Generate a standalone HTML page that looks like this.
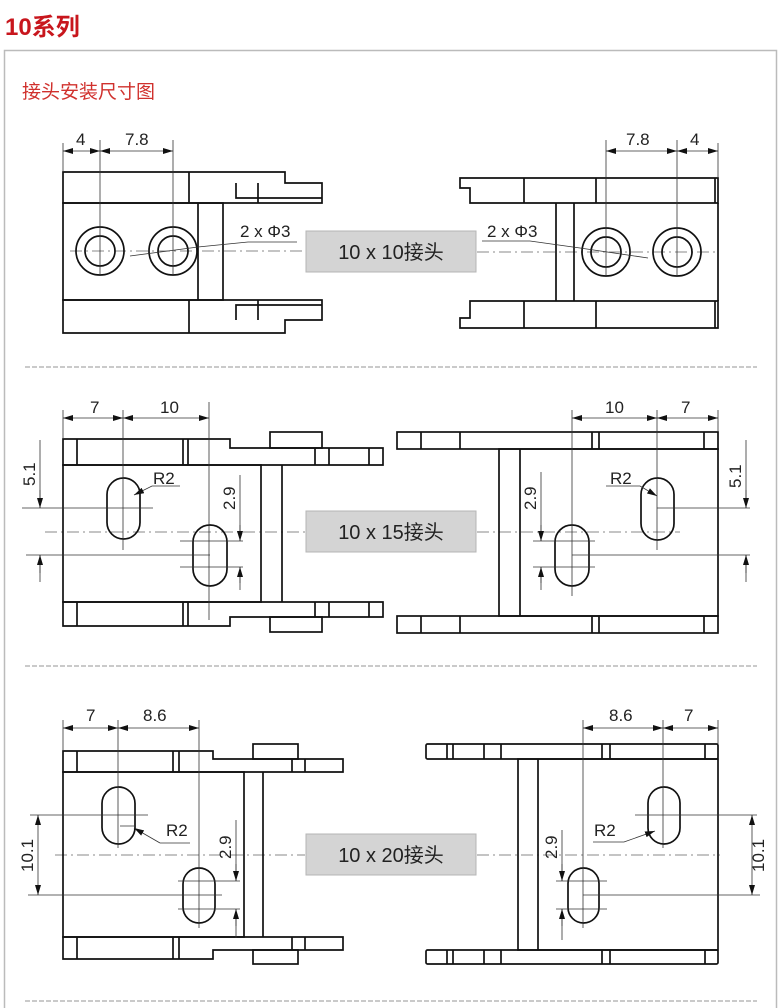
<!DOCTYPE html>
<html><head><meta charset="utf-8"><style>
html,body{margin:0;padding:0;background:#fff;}
svg{display:block;}
text{font-family:"Liberation Sans","Noto Sans CJK SC",sans-serif;}
</style></head><body>
<svg width="780" height="1008" viewBox="0 0 780 1008" xmlns="http://www.w3.org/2000/svg">
<defs>
<marker id="a" viewBox="0 0 10 6" refX="10" refY="3" markerWidth="10" markerHeight="6" markerUnits="userSpaceOnUse" orient="auto-start-reverse"><path d="M0,0 L10,3 L0,6 Z" fill="#111"/></marker>
</defs>
<text x="5" y="35" font-size="24" font-weight="bold" fill="#c8161d">10系列</text>
<path d="M4.5,1008 V50.5 H776.5 V1008" fill="none" stroke="#bbb" stroke-width="1.5"/>
<text x="22" y="98" font-size="19" fill="#d0312d">接头安装尺寸图</text>
<g stroke="#aaa" stroke-width="1.2" stroke-dasharray="5,2">
<line x1="25" y1="367" x2="757" y2="367"/><line x1="25" y1="666" x2="757" y2="666"/><line x1="25" y1="1001" x2="757" y2="1001"/>
</g>

<g fill="#d4d4d4" stroke="#b5b5b5" stroke-width="1">
<rect x="306" y="231" width="170" height="41"/>
<rect x="306" y="511" width="170" height="41"/>
<rect x="306" y="834" width="170" height="41"/>
</g>
<g font-size="20" fill="#222" text-anchor="middle">
<text x="391" y="259">10 x 10接头</text>
<text x="391" y="539">10 x 15接头</text>
<text x="391" y="862">10 x 20接头</text>
</g>

<g stroke="#888" stroke-width="1" stroke-dasharray="12,4,2,4" fill="none">
<line x1="70" y1="251" x2="305" y2="251"/><line x1="477" y1="252" x2="718" y2="252"/>
<line x1="45" y1="532" x2="305" y2="532"/><line x1="477" y1="532" x2="680" y2="532"/>
<line x1="55" y1="855" x2="305" y2="855"/><line x1="477" y1="855" x2="720" y2="855"/>
</g>

<!-- ROW 1 -->
<g stroke="#111" stroke-width="1.7" fill="none">
<path d="M63,172 H285 V183 H322 V203 H63 Z"/>
<path d="M189,172 V203 M236,183 V198 H322 M258,183 V203"/>
<rect x="63" y="203" width="160" height="97"/>
<line x1="198" y1="203" x2="198" y2="300"/>
<path d="M63,300 H322 V320 H285 V333 H63 Z"/>
<path d="M189,300 V333 M236,320 V305 H322 M258,300 V320"/>
<circle cx="100" cy="251" r="24"/><circle cx="100" cy="251" r="15"/>
<circle cx="173" cy="251" r="24"/><circle cx="173" cy="251" r="15"/>
<path d="M460,178 H718 V203 H470 V188 H460 Z"/>
<path d="M470,301 H718 V328 H460 V318 H470 Z"/>
<line x1="718" y1="203" x2="718" y2="301"/>
<path d="M524,178 V203 M596,178 V203 M524,301 V328 M596,301 V328 M715,178 V203 M715,301 V328"/>
<path d="M556,203 V301 M574,203 V301"/>
<circle cx="606" cy="252" r="24"/><circle cx="606" cy="252" r="15"/>
<circle cx="677" cy="252" r="24"/><circle cx="677" cy="252" r="15"/>
</g>
<g stroke="#333" stroke-width="0.8" fill="none">
<path d="M63,143 V172 M100,140 V276 M173,140 V276"/>
<line x1="63" y1="151" x2="100" y2="151" marker-start="url(#a)" marker-end="url(#a)"/>
<line x1="100" y1="151" x2="173" y2="151" marker-start="url(#a)" marker-end="url(#a)"/>
<path d="M130,256 L198,247 L248,242 H297"/>
<path d="M606,140 V277 M677,140 V277 M718,143 V178"/>
<line x1="606" y1="151" x2="677" y2="151" marker-start="url(#a)" marker-end="url(#a)"/>
<line x1="677" y1="151" x2="718" y2="151" marker-start="url(#a)" marker-end="url(#a)"/>
<path d="M482,241 H530 L580,248 L648,258"/>
</g>
<g font-size="17" fill="#222">
<text x="76" y="145">4</text><text x="125" y="145">7.8</text>
<text x="240" y="237">2 x Φ3</text>
<text x="626" y="145">7.8</text><text x="690" y="145">4</text>
<text x="487" y="237">2 x Φ3</text>
</g>

<!-- ROW 2 -->
<g stroke="#111" stroke-width="1.7" fill="none">
<path d="M63,439 H230 V448 H383 V465 H63 Z"/>
<path d="M77,439 V465 M183,439 V465 M188,439 V465 M315,448 V465 M329,448 V465 M369,448 V465"/>
<rect x="270" y="432" width="52" height="16"/>
<rect x="63" y="465" width="198" height="137"/>
<line x1="282" y1="465" x2="282" y2="602"/>
<path d="M63,602 H383 V617 H230 V626 H63 Z"/>
<path d="M77,602 V626 M183,602 V626 M188,602 V626 M315,602 V617 M329,602 V617 M369,602 V617"/>
<rect x="270" y="617" width="52" height="15"/>
<rect x="107" y="478" width="33" height="61" rx="16.5"/>
<rect x="193" y="525" width="34" height="61" rx="17"/>
<rect x="397" y="432" width="321" height="17"/>
<path d="M421,432 V449 M460,432 V449 M592,432 V449 M599,432 V449 M704,432 V449"/>
<rect x="499" y="449" width="219" height="167"/>
<line x1="520" y1="449" x2="520" y2="616"/>
<rect x="397" y="616" width="321" height="17"/>
<path d="M421,616 V633 M460,616 V633 M592,616 V633 M599,616 V633 M704,616 V633"/>
<rect x="555" y="525" width="34" height="61" rx="17"/>
<rect x="641" y="478" width="33" height="62" rx="16.5"/>
</g>
<g stroke="#333" stroke-width="0.8" fill="none">
<path d="M63,410 V439 M123,410 V550 M209,402 V620"/>
<line x1="63" y1="418" x2="123" y2="418" marker-start="url(#a)" marker-end="url(#a)"/>
<line x1="123" y1="418" x2="209" y2="418" marker-start="url(#a)" marker-end="url(#a)"/>
<path d="M22,508 H153 M26,555 H210"/>
<path d="M40,440 V508 M40,555 V582"/>
<line x1="40" y1="490" x2="40" y2="508" marker-end="url(#a)"/>
<line x1="40" y1="573" x2="40" y2="555" marker-end="url(#a)"/>
<path d="M180,541 H243 M180,567 H243"/>
<path d="M240,475 V541 M240,567 V590"/>
<line x1="240" y1="525" x2="240" y2="541" marker-end="url(#a)"/>
<line x1="240" y1="583" x2="240" y2="567" marker-end="url(#a)"/>
<path d="M180,486 H152 L134,495" marker-end="url(#a)"/>
<path d="M572,410 V596 M657,410 V550 M718,410 V432"/>
<line x1="572" y1="418" x2="657" y2="418" marker-start="url(#a)" marker-end="url(#a)"/>
<line x1="657" y1="418" x2="718" y2="418" marker-start="url(#a)" marker-end="url(#a)"/>
<path d="M657,508 H750 M572,555 H750"/>
<path d="M746,440 V508 M746,555 V582"/>
<line x1="746" y1="490" x2="746" y2="508" marker-end="url(#a)"/>
<line x1="746" y1="573" x2="746" y2="555" marker-end="url(#a)"/>
<path d="M533,541 H595 M533,567 H595"/>
<path d="M541,472 V541 M541,567 V590"/>
<line x1="541" y1="525" x2="541" y2="541" marker-end="url(#a)"/>
<line x1="541" y1="583" x2="541" y2="567" marker-end="url(#a)"/>
<path d="M606,486 H640 L657,496" marker-end="url(#a)"/>
</g>
<g font-size="17" fill="#222">
<text x="90" y="413">7</text><text x="160" y="413">10</text>
<text x="153" y="484">R2</text>
<text x="605" y="413">10</text><text x="681" y="413">7</text>
<text x="610" y="484">R2</text>
<text transform="translate(35,486) rotate(-90)">5.1</text>
<text transform="translate(235,510) rotate(-90)">2.9</text>
<text transform="translate(741,488) rotate(-90)">5.1</text>
<text transform="translate(536,510) rotate(-90)">2.9</text>
</g>

<!-- ROW 3 -->
<g stroke="#111" stroke-width="1.7" fill="none">
<path d="M63,751 H213 V759 H343 V772 H63 Z"/>
<path d="M77,751 V772 M173,751 V772 M179,751 V772 M292,759 V772 M305,759 V772"/>
<rect x="253" y="744" width="45" height="15"/>
<rect x="63" y="772" width="181" height="165"/>
<line x1="263" y1="772" x2="263" y2="937"/>
<path d="M63,937 H343 V950 H213 V959 H63 Z"/>
<path d="M77,937 V959 M173,937 V959 M179,937 V959 M292,937 V950 M305,937 V950"/>
<rect x="253" y="950" width="45" height="14"/>
<rect x="102" y="787" width="33" height="57" rx="16.5"/>
<rect x="183" y="868" width="32" height="55" rx="16"/>
<rect x="426" y="744" width="292" height="15" rx="1.5"/>
<path d="M447,744 V759 M453,744 V759 M484,744 V759 M501,744 V759 M602,744 V759 M610,744 V759 M705,744 V759"/>
<rect x="518" y="759" width="200" height="191"/>
<line x1="538" y1="759" x2="538" y2="950"/>
<rect x="426" y="950" width="292" height="14" rx="1.5"/>
<path d="M447,950 V964 M453,950 V964 M484,950 V964 M501,950 V964 M602,950 V964 M610,950 V964 M705,950 V964"/>
<rect x="568" y="868" width="31" height="55" rx="15.5"/>
<rect x="648" y="787" width="32" height="57" rx="16"/>
</g>
<g stroke="#333" stroke-width="0.8" fill="none">
<path d="M63,720 V751 M118,720 V848 M199,720 V928"/>
<line x1="63" y1="728" x2="118" y2="728" marker-start="url(#a)" marker-end="url(#a)"/>
<line x1="118" y1="728" x2="199" y2="728" marker-start="url(#a)" marker-end="url(#a)"/>
<path d="M30,815 H148 M28,895 H222"/>
<line x1="38" y1="815" x2="38" y2="895" marker-start="url(#a)" marker-end="url(#a)"/>
<path d="M178,881 H240 M178,909 H240"/>
<path d="M236,820 V881 M236,909 V938"/>
<line x1="236" y1="864" x2="236" y2="881" marker-end="url(#a)"/>
<line x1="236" y1="926" x2="236" y2="909" marker-end="url(#a)"/>
<path d="M190,843 H160 M120,826 L134,826"/>
<line x1="160" y1="843" x2="134" y2="828" marker-end="url(#a)"/>
<path d="M583,720 V928 M663,720 V848 M718,720 V744"/>
<line x1="583" y1="728" x2="663" y2="728" marker-start="url(#a)" marker-end="url(#a)"/>
<line x1="663" y1="728" x2="718" y2="728" marker-start="url(#a)" marker-end="url(#a)"/>
<path d="M635,815 H757 M583,895 H760"/>
<line x1="752" y1="815" x2="752" y2="895" marker-start="url(#a)" marker-end="url(#a)"/>
<path d="M556,881 H607 M556,909 H607"/>
<path d="M562,830 V881 M562,909 V940"/>
<line x1="562" y1="864" x2="562" y2="881" marker-end="url(#a)"/>
<line x1="562" y1="926" x2="562" y2="909" marker-end="url(#a)"/>
<path d="M593,842 H624 L655,831" marker-end="url(#a)"/>
</g>
<g font-size="17" fill="#222">
<text x="86" y="721">7</text><text x="143" y="721">8.6</text>
<text x="166" y="836">R2</text>
<text x="609" y="721">8.6</text><text x="684" y="721">7</text>
<text x="594" y="836">R2</text>
<text transform="translate(33,872) rotate(-90)">10.1</text>
<text transform="translate(231,859) rotate(-90)">2.9</text>
<text transform="translate(764,872) rotate(-90)">10.1</text>
<text transform="translate(557,859) rotate(-90)">2.9</text>
</g>
</svg>
</body></html>
